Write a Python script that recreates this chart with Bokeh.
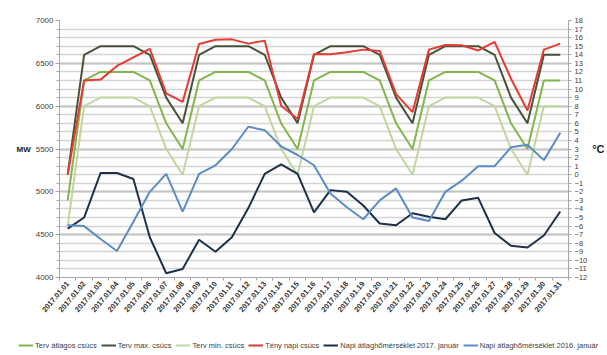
from bokeh.plotting import figure
from bokeh.layouts import column
from bokeh.models import (Range1d, LinearAxis, SingleIntervalTicker, FixedTicker, Legend, LegendItem,
                          CustomJSTickFormatter)
from bokeh.embed import file_html
from bokeh.resources import INLINE

dates = ["2017.01.01", "2017.01.02", "2017.01.03", "2017.01.04", "2017.01.05", "2017.01.06",
         "2017.01.07", "2017.01.08", "2017.01.09", "2017.01.10", "2017.01.11", "2017.01.12",
         "2017.01.13", "2017.01.14", "2017.01.15", "2017.01.16", "2017.01.17", "2017.01.18",
         "2017.01.19", "2017.01.20", "2017.01.21", "2017.01.22", "2017.01.23", "2017.01.24",
         "2017.01.25", "2017.01.26", "2017.01.27", "2017.01.28", "2017.01.29", "2017.01.30",
         "2017.01.31"]

terv_atlag = [4900, 6300, 6400, 6400, 6400, 6300, 5800, 5500, 6300, 6400, 6400, 6400, 6300, 5800, 5500,
              6300, 6400, 6400, 6400, 6300, 5800, 5500, 6300, 6400, 6400, 6400, 6300, 5800, 5500, 6300, 6300]
terv_max = [5200, 6600, 6700, 6700, 6700, 6600, 6100, 5800, 6600, 6700, 6700, 6700, 6600, 6100, 5800,
            6600, 6700, 6700, 6700, 6600, 6100, 5800, 6600, 6700, 6700, 6700, 6600, 6100, 5800, 6600, 6600]
terv_min = [4600, 6000, 6100, 6100, 6100, 6000, 5500, 5200, 6000, 6100, 6100, 6100, 6000, 5500, 5200,
            6000, 6100, 6100, 6100, 6000, 5500, 5200, 6000, 6100, 6100, 6100, 6000, 5500, 5200, 6000, 6000]
teny = [5200, 6300, 6310, 6470, 6570, 6670, 6150, 6050, 6725, 6775, 6780, 6730, 6765, 6005, 5850,
        6610, 6605, 6630, 6660, 6645, 6140, 5930, 6660, 6715, 6710, 6650, 6750, 6320, 5950, 6660, 6730]
temp_2017 = [-6.3, -5.0, 0.2, 0.2, -0.5, -7.3, -11.5, -11.0, -7.6, -9.0, -7.3, -3.9, 0.1, 1.2, 0.1,
             -4.4, -1.8, -2.0, -3.6, -5.7, -5.9, -4.5, -4.9, -5.2, -3.0, -2.7, -6.8, -8.3, -8.5, -7.1, -4.3]
temp_2016 = [-5.9, -6.0, -7.5, -8.9, -5.5, -2.0, 0.1, -4.3, 0.1, 1.1, 3.0, 5.6, 5.2, 3.3, 2.3,
             1.1, -2.2, -3.8, -5.2, -3.0, -1.6, -5.0, -5.4, -2.0, -0.7, 1.0, 1.0, 3.2, 3.5, 1.7, 4.9]

series_names = ["Terv átlagos csúcs", "Terv max. csúcs", "Terv min. csúcs", "Tény napi csúcs",
                "Napi átlaghőmérséklet 2017. január", "Napi átlaghőmérséklet 2016. január"]
colors = ["#82b64a", "#46533a", "#c0d69e", "#e63a32", "#1d3049", "#5b8dc4"]

FONT = "Liberation Sans"

# category centres on a numeric axis (category i occupies [i, i+1])
xc = [i + 0.5 for i in range(len(dates))]

p = figure(width=607, height=335,
           x_range=Range1d(0, len(dates)),
           y_range=Range1d(4000, 7000),
           output_backend="svg", toolbar_location=None,
           x_axis_location=None,
           min_border_left=59, min_border_right=34, min_border_top=20, min_border_bottom=58)
p.outline_line_color = None
p.background_fill_color = "white"
p.border_fill_color = "white"
p.extra_y_ranges = {"temp": Range1d(-12, 18)}

# left axis
yax = p.yaxis[0]
yax.ticker = SingleIntervalTicker(interval=500, num_minor_ticks=5)
yax.axis_line_color = "#a6a6a6"
yax.major_tick_line_color = "#a6a6a6"
yax.minor_tick_line_color = "#a6a6a6"
yax.major_tick_in = 0
yax.major_tick_out = 4
yax.minor_tick_in = 0
yax.minor_tick_out = 3
yax.major_label_text_font = FONT
yax.major_label_text_font_size = "8px"
yax.major_label_text_color = "#404040"
yax.major_label_standoff = 2
yax.axis_label = "MW"
yax.axis_label_text_font = FONT
yax.axis_label_text_font_style = "bold"
yax.axis_label_text_font_size = "8px"
yax.axis_label_text_color = "#202020"
yax.axis_label_standoff = 2
try:
    yax.axis_label_orientation = "horizontal"
except Exception:
    pass

p.xgrid.visible = False
p.ygrid.ticker = SingleIntervalTicker(interval=500, num_minor_ticks=5)
p.ygrid.grid_line_color = "#c4c4c4"
p.ygrid.grid_line_width = 2
p.ygrid.minor_grid_line_color = "#d4d4d4"
p.ygrid.minor_grid_line_width = 1.6

# right axis
rax = LinearAxis(y_range_name="temp", ticker=SingleIntervalTicker(interval=1, num_minor_ticks=0))
rax.axis_line_color = "#a6a6a6"
rax.major_tick_line_color = "#a6a6a6"
rax.major_tick_in = 0
rax.major_tick_out = 3
rax.minor_tick_line_color = None
rax.major_label_text_font = FONT
rax.major_label_text_font_size = "7.5px"
rax.major_label_text_color = "#404040"
rax.major_label_standoff = 3
rax.axis_label = "°C"
rax.axis_label_text_font = FONT
rax.axis_label_text_font_style = "bold"
rax.axis_label_text_font_size = "11px"
rax.axis_label_text_color = "#202020"
rax.axis_label_standoff = 2
try:
    rax.axis_label_orientation = "horizontal"
except Exception:
    pass
p.add_layout(rax, "right")

# date labels at category centres, small tick marks at category boundaries
cax = LinearAxis(ticker=FixedTicker(ticks=xc, minor_ticks=list(range(len(dates) + 1))),
                 formatter=CustomJSTickFormatter(args=dict(labels=dates),
                                                 code="return labels[Math.floor(tick)];"))
cax.axis_line_color = "#a6a6a6"
cax.major_tick_line_color = None
cax.minor_tick_line_color = "#a6a6a6"
cax.minor_tick_in = 0
cax.minor_tick_out = 3
cax.major_tick_in = 0
cax.major_tick_out = 3
cax.major_label_orientation = 0.87
cax.major_label_text_font = FONT
cax.major_label_text_font_style = "bold"
cax.major_label_text_font_size = "7.5px"
cax.major_label_text_color = "#303030"
cax.major_label_standoff = 2
p.add_layout(cax, "below")

r_atl = p.line(xc, terv_atlag, line_color=colors[0], line_width=2)
r_max = p.line(xc, terv_max, line_color=colors[1], line_width=2)
r_min = p.line(xc, terv_min, line_color=colors[2], line_width=2)
r_teny = p.line(xc, teny, line_color=colors[3], line_width=2)
r_t17 = p.line(xc, temp_2017, line_color=colors[4], line_width=2, y_range_name="temp")
r_t16 = p.line(xc, temp_2016, line_color=colors[5], line_width=2, y_range_name="temp")

# legend strip below the chart: proxy lines with the same styles, kept outside the strip's view
lf = figure(width=607, height=20, x_range=Range1d(0, 1), y_range=Range1d(0, 1),
            output_backend="svg", toolbar_location=None,
            x_axis_location=None, y_axis_location=None,
            min_border_left=0, min_border_right=0, min_border_top=0, min_border_bottom=0)
lf.outline_line_color = None
lf.xgrid.visible = False
lf.ygrid.visible = False
leg_x = 18
try:
    lf.frame_align = False
    p.frame_align = False
except Exception:
    leg_x = 18 - 59
lrends = [lf.line(x=[5, 6], y=[5, 6], line_color=c, line_width=2) for c in colors]
legend = Legend(items=[LegendItem(label=n, renderers=[r]) for n, r in zip(series_names, lrends)],
                orientation="horizontal", location=(leg_x, 5),
                label_text_font=FONT, label_text_font_size="7.5px", label_text_color="#404040",
                glyph_width=15, glyph_height=10, label_height=10, label_standoff=2, spacing=4,
                padding=0, margin=0, border_line_color=None, background_fill_alpha=0)
lf.add_layout(legend, "center")

open("out.html", "w").write(file_html(column(p, lf), INLINE))
